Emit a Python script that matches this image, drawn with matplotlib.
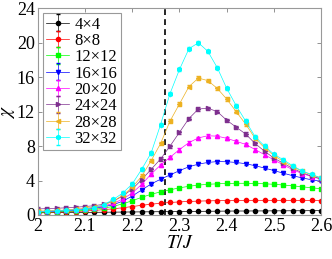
import numpy as np
import matplotlib
matplotlib.use('Agg')
import matplotlib.pyplot as plt

plt.rcParams['font.family'] = 'Liberation Serif'
plt.rcParams['mathtext.fontset'] = 'stix'

# temperature grid T/J and critical temperature
T = [2.00, 2.02, 2.04, 2.06, 2.08, 2.10, 2.12, 2.14, 2.16, 2.18, 2.20,
     2.22, 2.24, 2.26, 2.28, 2.30, 2.32, 2.34, 2.36, 2.38, 2.40,
     2.42, 2.44, 2.46, 2.48, 2.50, 2.52, 2.54, 2.56, 2.58, 2.60]
Tc = 2.269

labels = ['4×4', '8×8', '12×12', '16×16', '20×20', '24×24', '28×28', '32×32']

chi_4 = [0.25, 0.26, 0.27, 0.28, 0.29, 0.30, 0.31, 0.32, 0.33, 0.34, 0.35,
         0.36, 0.37, 0.38, 0.39, 0.40, 0.41, 0.42, 0.43, 0.44, 0.45,
         0.46, 0.46, 0.47, 0.47, 0.48, 0.48, 0.49, 0.49, 0.50, 0.50]
chi_8 = [0.25, 0.28, 0.31, 0.35, 0.40, 0.46, 0.53, 0.62, 0.72, 0.84, 0.98,
         1.12, 1.25, 1.36, 1.45, 1.52, 1.57, 1.61, 1.64, 1.66, 1.68,
         1.69, 1.70, 1.70, 1.70, 1.70, 1.70, 1.70, 1.69, 1.69, 1.68]
chi_12 = [0.30, 0.33, 0.37, 0.42, 0.48, 0.56, 0.66, 0.80, 1.00, 1.30, 1.65,
          2.05, 2.40, 2.68, 2.92, 3.15, 3.33, 3.47, 3.56, 3.62, 3.66,
          3.68, 3.68, 3.66, 3.62, 3.56, 3.48, 3.38, 3.27, 3.15, 3.05]
chi_16 = [0.35, 0.39, 0.44, 0.50, 0.57, 0.66, 0.78, 0.95, 1.20, 1.60, 2.20,
          2.90, 3.60, 4.15, 4.65, 5.15, 5.60, 5.90, 6.10, 6.20, 6.18,
          6.10, 5.95, 5.72, 5.45, 5.15, 4.85, 4.55, 4.30, 4.08, 3.90]
chi_20 = [0.40, 0.44, 0.49, 0.55, 0.63, 0.73, 0.86, 1.05, 1.35, 1.85, 2.55,
          3.55, 4.75, 5.80, 6.70, 7.60, 8.40, 8.95, 9.20, 9.15, 8.90,
          8.55, 8.20, 7.60, 7.00, 6.40, 5.80, 5.25, 4.80, 4.45, 4.15]
chi_24 = [0.70, 0.74, 0.78, 0.83, 0.90, 0.98, 1.08, 1.25, 1.60, 2.20, 3.00,
          4.10, 5.30, 6.50, 8.00, 9.60, 11.2, 12.3, 12.4, 12.0, 11.0,
          10.2, 9.40, 8.30, 7.40, 6.60, 6.00, 5.40, 4.90, 4.50, 4.20]
chi_28 = [0.45, 0.48, 0.52, 0.58, 0.66, 0.76, 0.90, 1.15, 1.60, 2.30, 3.20,
          4.50, 6.30, 8.30, 10.9, 12.9, 14.9, 15.9, 15.6, 14.7, 13.45,
          12.0, 10.55, 8.90, 7.80, 6.90, 6.20, 5.60, 5.05, 4.65, 4.30]
chi_32 = [0.40, 0.43, 0.47, 0.52, 0.60, 0.70, 0.85, 1.20, 1.80, 2.55, 3.60,
          5.30, 7.20, 10.5, 14.1, 16.9, 19.3, 20.0, 19.0, 17.1, 14.7,
          12.7, 10.9, 9.10, 8.00, 7.05, 6.40, 5.70, 5.10, 4.70, 4.30]
errs = [0.05, 0.08, 0.1, 0.12, 0.15, 0.18, 0.2, 0.2]

series = [chi_4, chi_8, chi_12, chi_16, chi_20, chi_24, chi_28, chi_32]
colors = ['black', 'red', '#00ff00', 'blue', 'magenta', '#7e2f8e', '#edb120', 'cyan']
markers = ['o', 'o', 's', 'v', '^', '>', '<', 'h']

fig = plt.figure(figsize=(3.32, 2.59), dpi=100)
ax = fig.add_axes([0.1136, 0.170, 0.854, 0.798])

for chi, c, m, lab, e in zip(series, colors, markers, labels, errs):
    ax.errorbar(T, chi, yerr=e, color=c, marker=m, markersize=3.0, lw=0.5,
                elinewidth=0.5, capsize=1.5, label=lab)

ax.axvline(Tc, color='black', ls='--', lw=1.2, dashes=(3.5, 2.5))

ax.set_xlim(2, 2.6)
ax.set_ylim(0, 24)
ax.set_xticks([2, 2.1, 2.2, 2.3, 2.4, 2.5, 2.6])
ax.set_xticklabels(['2', '2.1', '2.2', '2.3', '2.4', '2.5', '2.6'])
ax.set_yticks([0, 4, 8, 12, 16, 20, 24])
ax.tick_params(direction='in', top=True, right=True, labelsize=13,
               length=3, width=0.6, colors='0.5', labelcolor='black', pad=2)
for s in ax.spines.values():
    s.set_color('0.6')
    s.set_linewidth(0.8)

ax.set_xlabel('$T/J$', fontsize=14, labelpad=0)
ax.set_ylabel('$\\chi$', fontsize=14, labelpad=0)

leg = ax.legend(loc='upper left', fontsize=12, handlelength=1.4,
                handletextpad=0.3, borderpad=0.2, labelspacing=0.02,
                borderaxespad=0.3, fancybox=False, framealpha=1)
leg.get_frame().set_edgecolor('0.6')
leg.get_frame().set_linewidth(0.8)

plt.savefig('out.png', dpi=100)
